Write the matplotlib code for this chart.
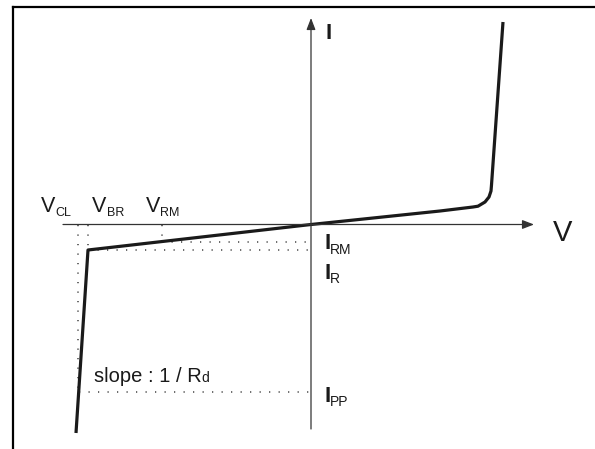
import numpy as np
import matplotlib
matplotlib.use("Agg")
import matplotlib.pyplot as plt
from matplotlib.lines import Line2D

plt.rcParams['font.family'] = ['Liberation Sans', 'DejaVu Sans']

# ---- characteristic values (arbitrary units, origin at V=0, I=0) ----
V_CL = -23.3
V_BR = -22.3
V_RM = -14.9
I_RM = -1.7
I_R = -2.55
I_PP = -16.75

# I-V characteristic curve (reverse branch -> forward branch)
curve_V = [-23.5, V_BR, 0.0, 12.9, 16.2, 16.7, 17.4, 17.8, 18.0, 18.05, 19.2]
curve_I = [-20.85, I_R, 0.0, 1.35, 1.75, 1.83, 2.25, 2.75, 3.35, 3.95, 20.25]

# axis extents
V_axis = [-24.8, 22.3]
I_axis = [-20.45, 20.65]

fig = plt.figure(figsize=(5.95, 4.49), dpi=100)
ax = fig.add_axes([0, 0, 1, 1])
ax.set_xlim(-31.1, 28.4)
ax.set_ylim(-22.45, 22.45)
ax.axis('off')

# outer frame (top and left)
fig.add_artist(Line2D([12.5 / 595, 1], [1 - 6.5 / 449, 1 - 6.5 / 449],
                      transform=fig.transFigure, color='black', lw=1.6,
                      solid_capstyle='projecting'))
fig.add_artist(Line2D([12.5 / 595, 12.5 / 595], [0, 1 - 6.5 / 449],
                      transform=fig.transFigure, color='black', lw=1.6,
                      solid_capstyle='projecting'))

axis_col = '#333333'
arrow_props = dict(arrowstyle='-|>,head_length=0.7,head_width=0.27',
                   lw=0.9, color=axis_col, shrinkA=0, shrinkB=0,
                   mutation_scale=10)
ax.annotate('', xy=(V_axis[1], 0), xytext=(V_axis[0], 0), arrowprops=arrow_props)
ax.annotate('', xy=(0, I_axis[1]), xytext=(0, I_axis[0]), arrowprops=arrow_props)

# dotted guide lines
dot_kw = dict(color='#444444', lw=1.15, linestyle=(0, (0.75, 5.2)))
V_at_IPP = np.interp(I_PP, [curve_I[0], curve_I[1]], [curve_V[0], curve_V[1]])
ax.plot([V_CL, V_CL], [0, I_PP], **dot_kw)
ax.plot([V_BR, V_BR], [0, I_R], **dot_kw)
ax.plot([V_RM, V_RM], [0, I_RM], **dot_kw)
ax.plot([V_BR, 0], [I_R, I_R], **dot_kw)
ax.plot([V_RM, 0], [I_RM, I_RM], **dot_kw)
ax.plot([V_at_IPP, 0], [I_PP, I_PP], **dot_kw)

# characteristic curve
ax.plot(curve_V, curve_I, color='#1a1a1a', lw=2.3, solid_joinstyle='round',
        solid_capstyle='butt')

txt_col = '#1a1a1a'


def label(x, y, main, sub, sub_dx, sub_dy, size, sub_size, weight='normal'):
    ax.text(x, y, main, fontsize=size, color=txt_col, ha='left',
            va='baseline', fontweight=weight)
    if sub:
        ax.text(x + sub_dx, y + sub_dy, sub, fontsize=sub_size, color=txt_col,
                ha='left', va='baseline')


# voltage labels above the V axis
label(-27.0, 1.28, 'V', 'CL', 1.42, -0.45, 15.5, 9)
label(-21.9, 1.28, 'V', 'BR', 1.45, -0.45, 15.5, 9)
label(-16.55, 1.28, 'V', 'RM', 1.45, -0.45, 15.5, 9)

# axis names
ax.text(1.45, 18.52, 'I', fontsize=16, color=txt_col, ha='left',
        va='baseline', fontweight='bold')
ax.text(24.15, -1.65, 'V', fontsize=21, color=txt_col, ha='left', va='baseline')

# current labels right of the I axis
label(1.33, -2.48, 'I', 'RM', 0.55, -0.47, 16, 10, 'bold')
label(1.33, -5.48, 'I', 'R', 0.55, -0.40, 16, 10, 'bold')
label(1.33, -17.72, 'I', 'PP', 0.55, -0.43, 16, 10, 'bold')

# slope annotation
ax.text(-21.66, -15.72, 'slope : 1 / R', fontsize=14.5, color=txt_col,
        ha='left', va='baseline')
ax.text(-10.95, -15.72, 'd', fontsize=10, color=txt_col, ha='left', va='baseline')

fig.savefig('out.png', dpi=100)
